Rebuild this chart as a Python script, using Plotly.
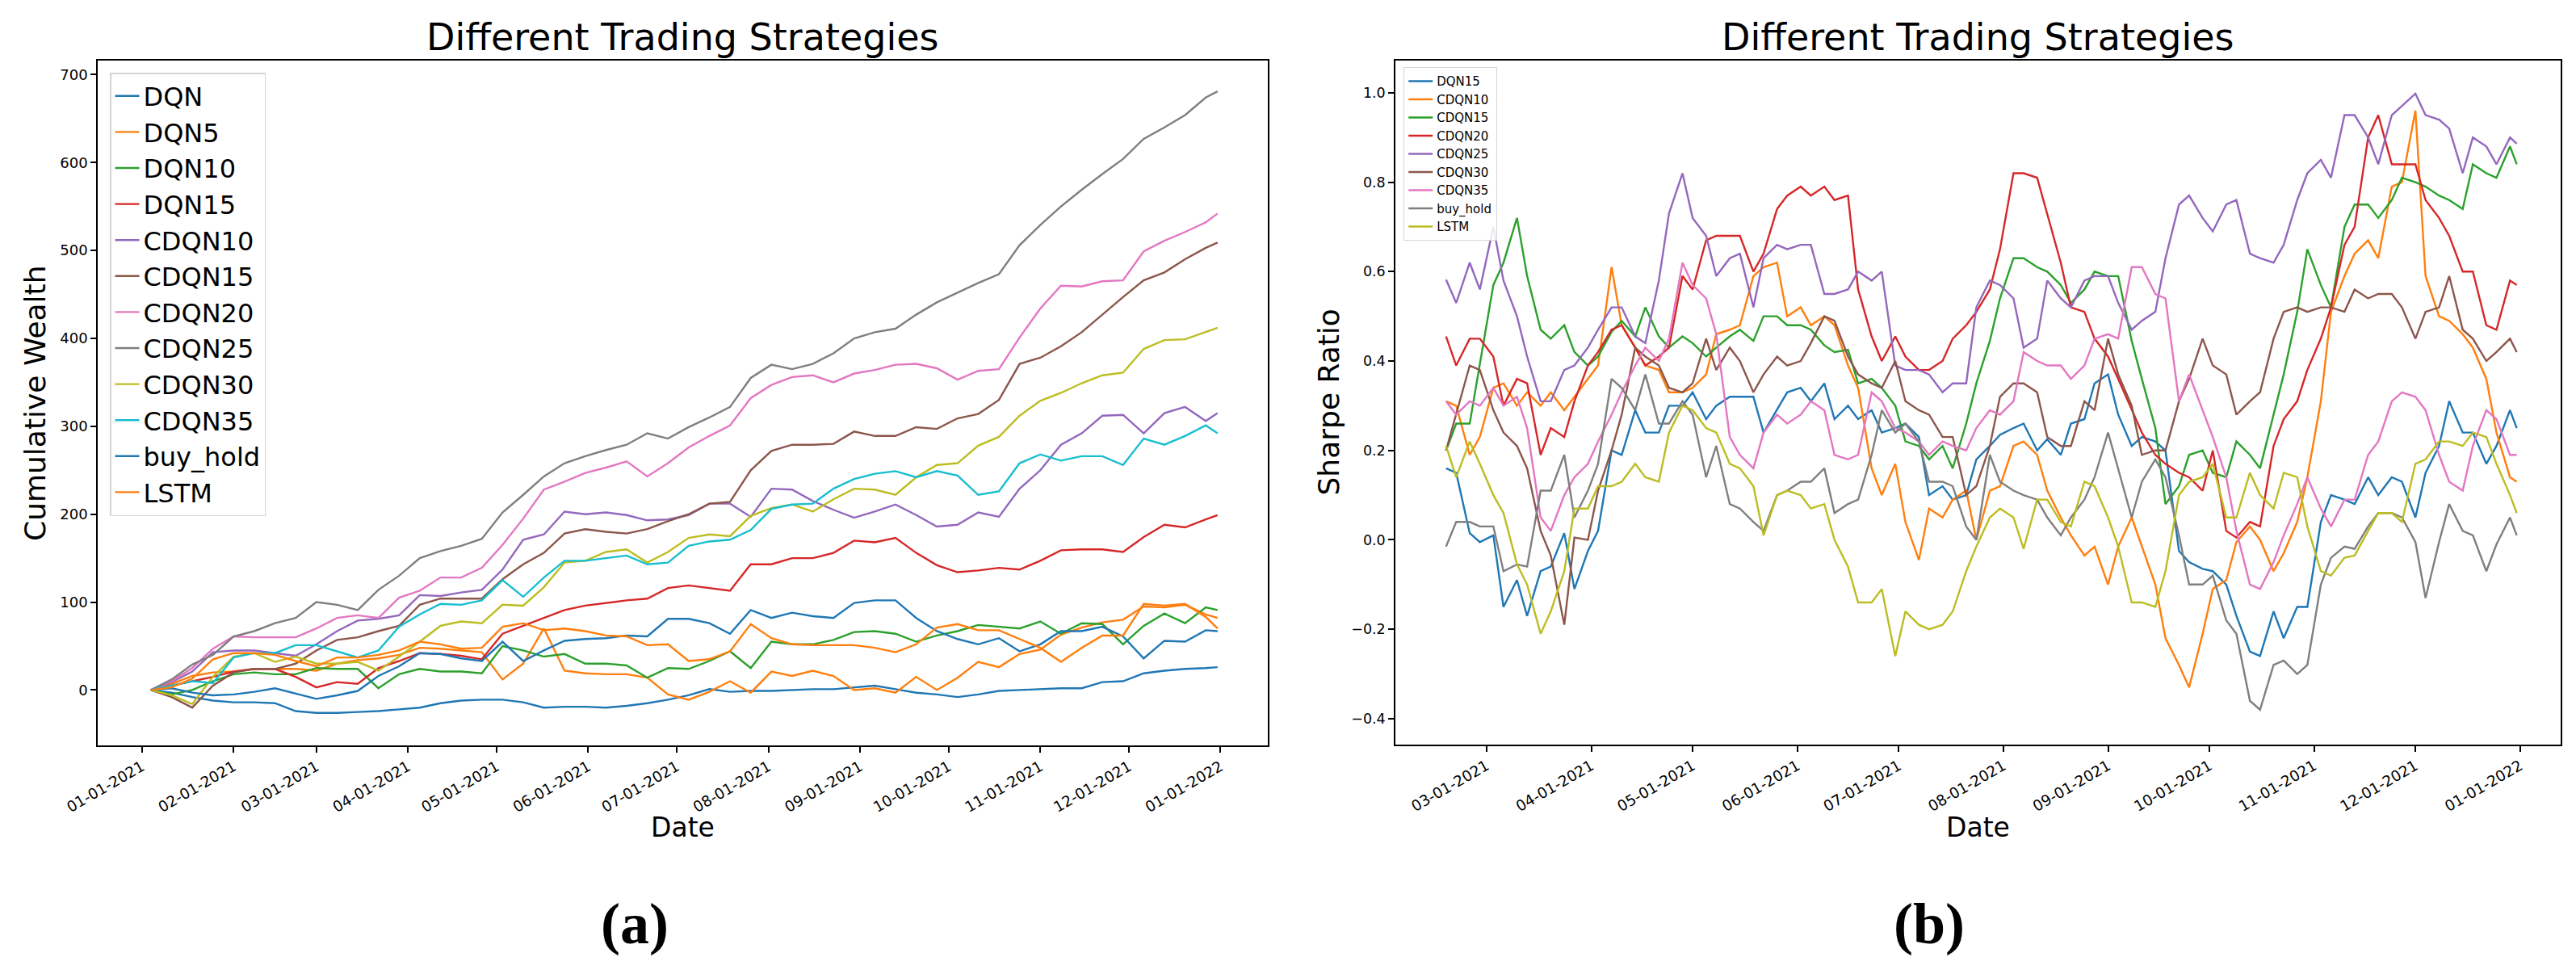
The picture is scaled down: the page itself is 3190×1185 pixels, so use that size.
import plotly.graph_objects as go
import pandas as pd

# ---------------- data: panel (a) cumulative wealth (weekly readings) ----------------
left_dates = list(pd.date_range("2021-01-04", periods=52, freq="7D").strftime("%Y-%m-%d")) + ["2021-12-31"]

dqn = [0, -3, -8, -12, -14, -14, -15, -24, -26, -26, -25, -24, -22, -20, -15, -12, -11, -11, -14, -20,
       -19, -19, -20, -18, -15, -11, -6, 1, -2, -1, -1, 0, 1, 1, 3, 5, 1, -3, -5, -8,
       -5, -1, 0, 1, 2, 2, 9, 10, 19, 22, 24, 25, 26]
dqn5 = [0, 7, 16, 20, 21, 24, 24, 24, 22, 30, 34, 36, 40, 48, 47, 45, 43, 12, 30, 70,
        22, 19, 18, 18, 14, -5, -11, -2, 10, -3, 21, 16, 22, 16, 0, 2, -3, 15, 0, 14,
        32, 26, 41, 46, 63, 71, 77, 80, 95, 94, 97, 86, 82]
dqn10 = [0, -5, 0, 10, 18, 20, 18, 18, 25, 24, 24, 2, 18, 24, 21, 21, 19, 50, 45, 38,
         41, 30, 30, 28, 14, 25, 24, 33, 44, 25, 55, 52, 52, 57, 66, 67, 64, 55, 62, 67,
         74, 72, 70, 78, 64, 76, 75, 52, 73, 87, 76, 94, 91]
dqn15 = [0, 5, 10, 15, 21, 24, 24, 15, 3, 9, 7, 25, 33, 42, 41, 39, 35, 64, 73, 82,
         91, 96, 99, 102, 104, 116, 119, 116, 113, 143, 143, 150, 150, 156, 170, 168, 173, 156, 142, 134,
         136, 139, 137, 147, 159, 160, 160, 157, 174, 188, 185, 194, 199]
cdqn10 = [0, 9, 21, 43, 45, 45, 42, 39, 52, 67, 79, 81, 85, 108, 107, 111, 114, 137, 171, 177,
          203, 200, 202, 199, 193, 194, 199, 212, 212, 197, 229, 228, 215, 205, 196, 203, 211, 199, 186, 188,
          202, 197, 229, 250, 279, 292, 312, 313, 292, 315, 322, 306, 315]
cdqn15 = [0, -8, -20, 5, 20, 24, 24, 30, 45, 57, 60, 67, 73, 97, 104, 104, 104, 126, 143, 156,
          178, 183, 180, 178, 183, 192, 200, 212, 214, 250, 272, 279, 279, 280, 294, 289, 289, 299, 297, 309,
          314, 330, 371, 378, 391, 407, 427, 447, 466, 475, 490, 503, 509]
cdqn20 = [0, 10, 25, 47, 61, 60, 60, 60, 70, 82, 85, 82, 105, 113, 128, 128, 139, 165, 195, 228,
          237, 247, 253, 260, 243, 258, 276, 289, 301, 332, 347, 356, 358, 350, 360, 364, 370, 371, 366, 353,
          363, 365, 401, 434, 460, 459, 465, 466, 499, 511, 521, 532, 542]
cdqn25 = [0, 12, 29, 40, 61, 67, 76, 82, 100, 97, 91, 114, 130, 150, 158, 164, 172, 202, 222, 243,
          258, 266, 273, 279, 292, 286, 299, 310, 322, 355, 370, 365, 371, 383, 400, 407, 411, 427, 441, 452,
          463, 473, 506, 529, 550, 569, 587, 604, 627, 640, 654, 674, 681]
cdqn30 = [0, -6, -16, 15, 38, 42, 32, 38, 30, 30, 32, 22, 38, 55, 73, 78, 76, 97, 96, 117,
          145, 147, 157, 160, 145, 157, 173, 177, 175, 198, 207, 211, 203, 217, 229, 228, 222, 242, 256, 258,
          278, 288, 312, 329, 338, 349, 358, 361, 388, 398, 399, 407, 412]
cdqn35 = [0, 5, 10, 8, 37, 42, 42, 51, 51, 44, 37, 45, 72, 86, 98, 97, 102, 125, 106, 128,
          147, 147, 150, 153, 143, 145, 164, 169, 171, 182, 206, 211, 212, 229, 240, 246, 249, 242, 249, 244,
          222, 226, 258, 268, 261, 266, 266, 256, 286, 279, 289, 301, 292]
buy_hold_a = [0, 2, -3, -6, -5, -2, 2, -4, -10, -6, -1, 16, 27, 42, 41, 36, 33, 55, 33, 45,
              56, 58, 59, 62, 61, 81, 81, 76, 64, 91, 82, 88, 84, 82, 99, 102, 102, 82, 67, 58,
              52, 59, 44, 52, 67, 67, 72, 61, 36, 56, 55, 68, 67]
lstm_a = [0, 3, 13, 35, 42, 42, 40, 33, 27, 37, 37, 40, 45, 55, 52, 47, 48, 72, 76, 68,
          70, 67, 62, 61, 51, 52, 33, 35, 44, 75, 59, 52, 51, 51, 51, 48, 43, 52, 71, 75,
          68, 68, 58, 48, 32, 48, 62, 62, 98, 96, 98, 83, 70]

left_names = ["DQN", "DQN5", "DQN10", "DQN15", "CDQN10", "CDQN15", "CDQN20", "CDQN25",
              "CDQN30", "CDQN35", "buy_hold", "LSTM"]
left_values = [dqn, dqn5, dqn10, dqn15, cdqn10, cdqn15, cdqn20, cdqn25, cdqn30, cdqn35, buy_hold_a, lstm_a]
left_ticks = [0, 100, 200, 300, 400, 500, 600, 700]

# ---------------- data: panel (b) rolling Sharpe ratio ----------------
# readings on Wednesdays (47 values, last = 2021-12-31) and on the Saturdays between them (45 values)
week_dates = list(pd.date_range("2021-02-17", periods=46, freq="7D"))
mid_dates = [d + pd.Timedelta(days=3) for d in week_dates[:45]]

s_dqn15 = [0.16, 0.015, 0.01, -0.09, -0.07, 0.015, -0.025, 0.20, 0.29, 0.24,
           0.30, 0.27, 0.32, 0.32, 0.29, 0.34, 0.35, 0.30, 0.29, 0.25,
           0.23, 0.12, 0.10, 0.21, 0.25, 0.20, 0.19, 0.27, 0.37, 0.21,
           0.22, -0.025, -0.065, -0.10, -0.25, -0.16, -0.15, 0.04, 0.09, 0.14,
           0.14, 0.05, 0.21, 0.24, 0.17, 0.29, 0.25]
s_dqn15_mid = [0.15, -0.005, -0.15, -0.17, -0.06, -0.11, 0.02, 0.19, 0.24, 0.30,
               0.33, 0.30, 0.32, 0.24, 0.33, 0.31, 0.27, 0.27, 0.24, 0.26,
               0.10, 0.09, 0.18, 0.235, 0.26, 0.225, 0.26, 0.35, 0.28, 0.23,
               0.20, -0.05, -0.07, -0.17, -0.26, -0.22, -0.15, 0.10, 0.08, 0.10,
               0.13, 0.15, 0.31, 0.24, 0.21]
s_cdqn10 = [0.31, 0.19, 0.34, 0.30, 0.30, 0.29, 0.36, 0.61, 0.43, 0.38,
            0.33, 0.37, 0.47, 0.59, 0.62, 0.52, 0.50, 0.39, 0.16, 0.17,
            -0.045, 0.05, 0.11, 0.11, 0.21, 0.19, 0.05, -0.035, -0.10, 0.05,
            -0.10, -0.28, -0.21, -0.09, 0.03, -0.07, 0.04, 0.31, 0.59, 0.67,
            0.79, 0.96, 0.50, 0.46, 0.36, 0.14, 0.13]
s_cdqn10_mid = [0.30, 0.23, 0.35, 0.33, 0.33, 0.32, 0.39, 0.48, 0.39, 0.33,
                0.34, 0.46, 0.48, 0.61, 0.50, 0.48, 0.48, 0.34, 0.10, 0.04,
                0.07, 0.09, 0.00, 0.12, 0.22, 0.11, 0.01, -0.015, -0.015, -0.015,
                -0.22, -0.33, -0.11, -0.005, 0.00, -0.03, 0.14, 0.51, 0.64, 0.63,
                0.80, 0.59, 0.49, 0.43, 0.24]
s_cdqn15 = [0.20, 0.26, 0.57, 0.72, 0.47, 0.48, 0.39, 0.465, 0.455, 0.455,
            0.455, 0.41, 0.455, 0.445, 0.50, 0.48, 0.435, 0.425, 0.36, 0.30,
            0.21, 0.21, 0.26, 0.445, 0.63, 0.61, 0.57, 0.56, 0.59, 0.445,
            0.25, 0.12, 0.20, 0.14, 0.19, 0.28, 0.51, 0.57, 0.70, 0.75,
            0.76, 0.80, 0.77, 0.74, 0.82, 0.88, 0.84]
s_cdqn15_mid = [0.26, 0.39, 0.62, 0.59, 0.45, 0.42, 0.41, 0.49, 0.52, 0.43,
                0.44, 0.43, 0.47, 0.50, 0.48, 0.47, 0.42, 0.35, 0.34, 0.22,
                0.18, 0.16, 0.35, 0.54, 0.63, 0.60, 0.53, 0.60, 0.59, 0.36,
                0.08, 0.19, 0.15, 0.22, 0.16, 0.37, 0.65, 0.52, 0.75, 0.72,
                0.81, 0.79, 0.76, 0.84, 0.81]
s_cdqn20 = [0.455, 0.45, 0.41, 0.36, 0.19, 0.23, 0.39, 0.47, 0.43, 0.41,
            0.59, 0.67, 0.68, 0.60, 0.74, 0.79, 0.79, 0.77, 0.455, 0.455,
            0.38, 0.40, 0.48, 0.56, 0.82, 0.81, 0.62, 0.51, 0.41, 0.29,
            0.19, 0.15, 0.11, 0.02, 0.04, 0.21, 0.31, 0.45, 0.66, 0.90,
            0.84, 0.84, 0.72, 0.60, 0.48, 0.58, 0.57]
s_cdqn20_mid = [0.39, 0.45, 0.30, 0.35, 0.25, 0.31, 0.42, 0.48, 0.39, 0.43,
                0.56, 0.68, 0.68, 0.64, 0.77, 0.77, 0.76, 0.56, 0.40, 0.41,
                0.38, 0.45, 0.51, 0.65, 0.82, 0.73, 0.52, 0.45, 0.36, 0.24,
                0.17, 0.14, 0.20, 0.005, 0.03, 0.27, 0.38, 0.52, 0.70, 0.95,
                0.84, 0.76, 0.68, 0.60, 0.47]
s_cdqn25 = [0.582, 0.62, 0.70, 0.50, 0.31, 0.38, 0.43, 0.52, 0.455, 0.58,
            0.82, 0.68, 0.63, 0.52, 0.66, 0.66, 0.55, 0.56, 0.58, 0.39,
            0.38, 0.33, 0.35, 0.58, 0.54, 0.45, 0.54, 0.58, 0.59, 0.47,
            0.51, 0.75, 0.72, 0.75, 0.64, 0.62, 0.76, 0.85, 0.95, 0.90,
            0.95, 0.998, 0.94, 0.82, 0.88, 0.90, 0.886]
s_cdqn25_mid = [0.53, 0.56, 0.58, 0.41, 0.31, 0.39, 0.47, 0.52, 0.44, 0.73,
                0.72, 0.59, 0.64, 0.63, 0.65, 0.66, 0.55, 0.60, 0.60, 0.38,
                0.37, 0.35, 0.52, 0.57, 0.43, 0.58, 0.52, 0.59, 0.53, 0.49,
                0.63, 0.77, 0.69, 0.76, 0.63, 0.66, 0.82, 0.81, 0.95, 0.84,
                0.97, 0.95, 0.92, 0.90, 0.84]
s_cdqn30 = [0.20, 0.39, 0.29, 0.21, 0.02, -0.19, 0.00, 0.20, 0.43, 0.39,
            0.33, 0.45, 0.43, 0.33, 0.41, 0.40, 0.50, 0.41, 0.35, 0.40,
            0.29, 0.23, 0.10, 0.21, 0.35, 0.33, 0.21, 0.31, 0.45, 0.30,
            0.20, 0.31, 0.45, 0.37, 0.31, 0.45, 0.52, 0.52, 0.51, 0.54,
            0.55, 0.45, 0.52, 0.47, 0.40, 0.45, 0.42]
s_cdqn30_mid = [0.28, 0.38, 0.24, 0.16, -0.035, 0.005, 0.11, 0.28, 0.41, 0.34,
                0.35, 0.38, 0.40, 0.37, 0.39, 0.44, 0.49, 0.37, 0.34, 0.31,
                0.28, 0.23, 0.12, 0.32, 0.35, 0.23, 0.21, 0.29, 0.37, 0.19,
                0.20, 0.36, 0.39, 0.28, 0.33, 0.51, 0.51, 0.52, 0.56, 0.55,
                0.52, 0.51, 0.59, 0.45, 0.42]
s_cdqn35 = [0.31, 0.31, 0.34, 0.32, 0.05, 0.10, 0.17, 0.28, 0.39, 0.40,
            0.62, 0.54, 0.23, 0.16, 0.28, 0.28, 0.29, 0.18, 0.33, 0.25,
            0.22, 0.22, 0.20, 0.29, 0.31, 0.40, 0.39, 0.39, 0.46, 0.61,
            0.55, 0.31, 0.29, 0.14, -0.10, -0.05, 0.08, 0.07, 0.09, 0.19,
            0.31, 0.32, 0.19, 0.11, 0.29, 0.19, 0.19]
s_cdqn35_mid = [0.28, 0.30, 0.30, 0.25, 0.02, 0.14, 0.22, 0.33, 0.43, 0.45,
                0.57, 0.46, 0.19, 0.24, 0.26, 0.31, 0.19, 0.19, 0.31, 0.24,
                0.19, 0.21, 0.25, 0.28, 0.42, 0.39, 0.36, 0.45, 0.45, 0.61,
                0.54, 0.37, 0.23, 0.02, -0.11, 0.01, 0.14, 0.03, 0.09, 0.22,
                0.33, 0.29, 0.13, 0.21, 0.27]
s_buy_hold = [-0.015, 0.04, 0.03, -0.055, 0.11, 0.19, 0.11, 0.36, 0.29, 0.26,
              0.31, 0.14, 0.08, 0.04, 0.10, 0.13, 0.16, 0.08, 0.19, 0.24,
              0.22, 0.13, 0.03, 0.19, 0.11, 0.09, 0.01, 0.09, 0.24, 0.05,
              0.18, 0.01, -0.10, -0.18, -0.36, -0.28, -0.30, -0.10, -0.015, 0.03,
              0.06, -0.005, -0.005, 0.02, -0.07, 0.05, 0.01]
s_buy_hold_mid = [0.04, 0.03, -0.07, -0.06, 0.11, 0.05, 0.17, 0.34, 0.37, 0.26,
                  0.28, 0.21, 0.07, 0.02, 0.11, 0.13, 0.06, 0.09, 0.29, 0.26,
                  0.13, 0.12, 0.00, 0.13, 0.10, 0.05, 0.05, 0.14, 0.16, 0.13,
                  0.14, -0.10, -0.08, -0.21, -0.38, -0.27, -0.28, -0.04, -0.02, 0.06,
                  0.05, -0.13, 0.08, 0.01, -0.01]
s_lstm = [0.21, 0.22, 0.10, -0.055, -0.21, -0.07, 0.07, 0.12, 0.17, 0.13,
          0.30, 0.25, 0.17, 0.12, 0.10, 0.10, 0.08, -0.06, -0.14, -0.26,
          -0.19, -0.19, -0.07, 0.05, 0.05, 0.09, 0.04, 0.13, 0.05, -0.14,
          -0.15, 0.10, 0.14, 0.05, 0.15, 0.07, 0.14, -0.07, -0.04, 0.02,
          0.06, 0.17, 0.22, 0.21, 0.23, 0.10, 0.06]
s_lstm_mid = [0.14, 0.17, 0.06, -0.10, -0.16, 0.07, 0.12, 0.13, 0.14, 0.24,
              0.29, 0.24, 0.16, 0.01, 0.11, 0.07, 0.00, -0.14, -0.11, -0.16,
              -0.20, -0.16, -0.015, 0.07, -0.02, 0.09, 0.03, 0.12, -0.015, -0.14,
              -0.07, 0.13, 0.17, 0.05, 0.10, 0.15, 0.03, -0.08, -0.035, 0.06,
              0.04, 0.18, 0.22, 0.24, 0.17]

right_names = ["DQN15", "CDQN10", "CDQN15", "CDQN20", "CDQN25", "CDQN30", "CDQN35", "buy_hold", "LSTM"]
right_weekly = [s_dqn15, s_cdqn10, s_cdqn15, s_cdqn20, s_cdqn25, s_cdqn30, s_cdqn35, s_buy_hold, s_lstm]
right_mid = [s_dqn15_mid, s_cdqn10_mid, s_cdqn15_mid, s_cdqn20_mid, s_cdqn25_mid, s_cdqn30_mid,
             s_cdqn35_mid, s_buy_hold_mid, s_lstm_mid]
right_ticks = [-0.4, -0.2, 0.0, 0.2, 0.4, 0.6, 0.8, 1.0]


def merge_series(weekly, mid):
    """Interleave Wednesday and Saturday readings into one chronological series."""
    dates, vals = [], []
    for i in range(len(mid)):
        dates += [week_dates[i], mid_dates[i]]
        vals += [weekly[i], mid[i]]
    dates += [week_dates[45], pd.Timestamp("2021-12-31")]
    vals += [weekly[45], weekly[46]]
    return [d.strftime("%Y-%m-%d") for d in dates], vals


# ---------------- styling ----------------
tab10 = ["#1f77b4", "#ff7f0e", "#2ca02c", "#d62728", "#9467bd",
         "#8c564b", "#e377c2", "#7f7f7f", "#bcbd22", "#17becf"]
W, H = 3190, 1185
FONT = "DejaVu Sans"


def px_x(p):
    return p / W


def px_y(p):
    return 1 - p / H


fig = go.Figure()
for i, (n, v) in enumerate(zip(left_names, left_values)):
    fig.add_trace(go.Scatter(x=left_dates, y=v, mode="lines", name=n,
                             line=dict(color=tab10[i % 10], width=2.4),
                             xaxis="x", yaxis="y", legend="legend"))
for i, n in enumerate(right_names):
    xs, ys = merge_series(right_weekly[i], right_mid[i])
    fig.add_trace(go.Scatter(x=xs, y=ys, mode="lines", name=n,
                             line=dict(color=tab10[i % 10], width=2.4),
                             xaxis="x2", yaxis="y2", legend="legend2"))

axis_common = dict(showline=True, mirror=True, linecolor="black", linewidth=1.5,
                   ticks="outside", ticklen=7, tickwidth=1.5, tickcolor="black",
                   showgrid=False, zeroline=False, automargin=False)

L_X0, L_X1, L_Y0, L_Y1 = 113, 1562, 67, 915
R_X0, R_X1, R_Y0, R_Y1 = 1720, 3163, 67, 914

fig.update_layout(
    template="none",
    width=W, height=H,
    margin=dict(l=0, r=0, t=0, b=0, autoexpand=False),
    paper_bgcolor="white", plot_bgcolor="white",
    showlegend=True,
    xaxis=dict(domain=[px_x(L_X0), px_x(L_X1)], anchor="y", type="date",
               range=["2020-12-17", "2022-01-17"], dtick="M1", tick0="2021-01-01",
               tickformat="%m-%d-%Y", tickangle=-30,
               tickfont=dict(family=FONT, size=18.5, color="black"), **axis_common),
    yaxis=dict(domain=[px_y(L_Y1), px_y(L_Y0)], anchor="x", range=[-63, 716],
               tickmode="array", tickvals=left_ticks,
               tickfont=dict(family=FONT, size=18, color="black"), **axis_common),
    xaxis2=dict(domain=[px_x(R_X0), px_x(R_X1)], anchor="y2", type="date",
                range=["2021-02-02", "2022-01-13"], dtick="M1", tick0="2021-01-01",
                tickformat="%m-%d-%Y", tickangle=-30,
                tickfont=dict(family=FONT, size=18.5, color="black"), **axis_common),
    yaxis2=dict(domain=[px_y(R_Y1), px_y(R_Y0)], anchor="x2", range=[-0.458, 1.072],
                tickmode="array", tickvals=right_ticks, tickformat=".1f",
                tickfont=dict(family=FONT, size=17.5, color="black"), **axis_common),
    legend=dict(x=px_x(128), y=px_y(82), xanchor="left", yanchor="top",
                bgcolor="rgba(255,255,255,0.85)", bordercolor="#d5d5d5", borderwidth=1.5,
                font=dict(family=FONT, size=32, color="black"), tracegroupgap=0),
    legend2=dict(x=px_x(1730), y=px_y(75), xanchor="left", yanchor="top",
                 bgcolor="rgba(255,255,255,0.85)", bordercolor="#d5d5d5", borderwidth=1.2,
                 font=dict(family=FONT, size=15, color="black"), tracegroupgap=0),
)

ann = []
title_txt = "Different Trading Strategies"
for cx in [(L_X0 + L_X1) / 2, (R_X0 + R_X1) / 2]:
    ann.append(dict(text=title_txt, x=px_x(cx), y=px_y(38), xref="paper", yref="paper",
                    showarrow=False, xanchor="center", yanchor="middle",
                    font=dict(family=FONT, size=46, color="black")))
    ann.append(dict(text="Date", x=px_x(cx), y=px_y(1016), xref="paper", yref="paper",
                    showarrow=False, xanchor="center", yanchor="middle",
                    font=dict(family=FONT, size=33, color="black")))
ann.append(dict(text="Cumulative Wealth", x=px_x(35), y=px_y((L_Y0 + L_Y1) / 2), xref="paper", yref="paper",
                showarrow=False, xanchor="center", yanchor="middle", textangle=-90,
                font=dict(family=FONT, size=36, color="black")))
ann.append(dict(text="Sharpe Ratio", x=px_x(1637), y=px_y((R_Y0 + R_Y1) / 2), xref="paper", yref="paper",
                showarrow=False, xanchor="center", yanchor="middle", textangle=-90,
                font=dict(family=FONT, size=36, color="black")))
ann.append(dict(text="<b>(a)</b>", x=px_x(778), y=px_y(1136), xref="paper", yref="paper",
                showarrow=False, xanchor="center", yanchor="middle",
                font=dict(family="Liberation Serif", size=72, color="black")))
ann.append(dict(text="<b>(b)</b>", x=px_x(2381), y=px_y(1136), xref="paper", yref="paper",
                showarrow=False, xanchor="center", yanchor="middle",
                font=dict(family="Liberation Serif", size=72, color="black")))
fig.update_layout(annotations=ann)

fig.write_html("out.html")
